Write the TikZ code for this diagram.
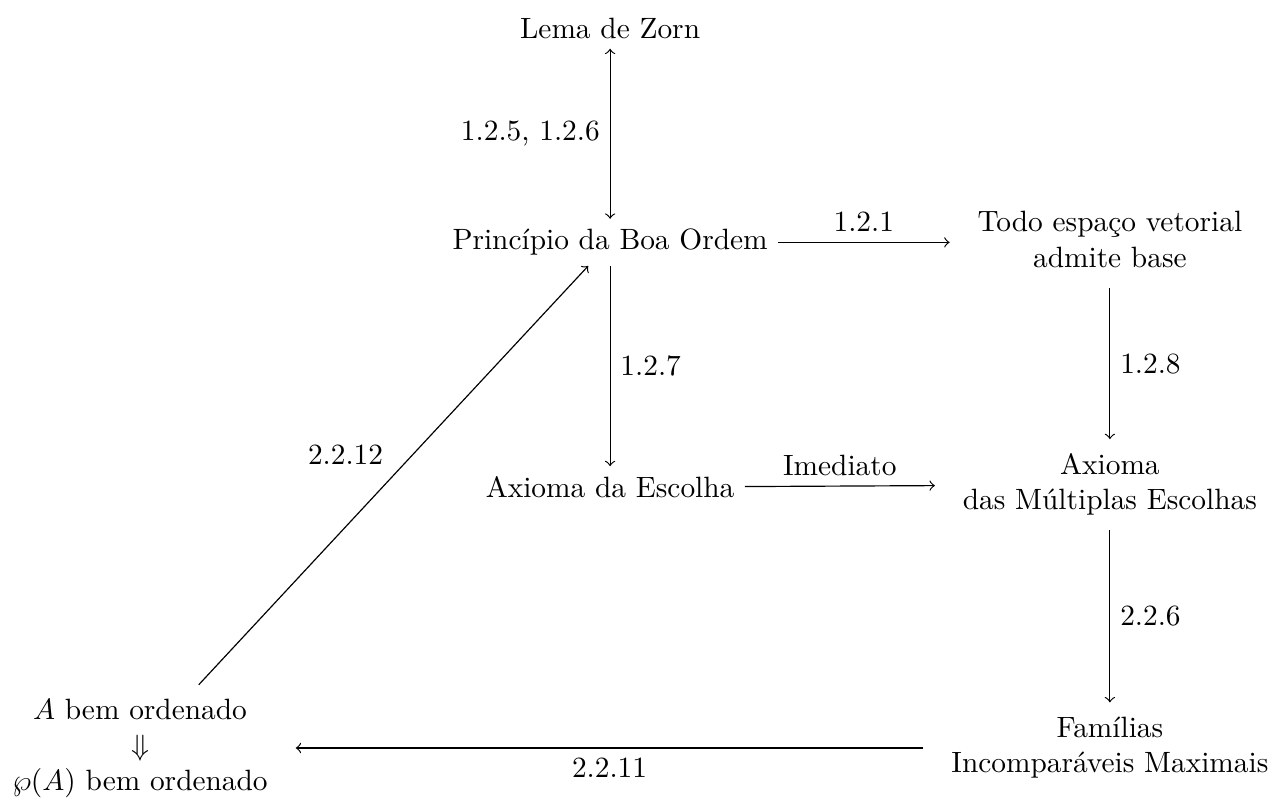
\documentclass[tikz,border=0pt]{standalone}
\usepackage{amssymb}
\newcommand{\linhas}[1]{\begin{tabular}{c}#1\end{tabular}}
\begin{document}
\begin{tikzpicture}
        \useasboundingbox (0,0) rectangle (15.22,-9.56);
        \scoped{
                \node (zorn) at (7.30,-0.335) {Lema de Zorn};
                \node (pbo) at (7.30,-2.90) {Princípio da Boa Ordem};
                \node (base) at (13.28,-2.90) {\linhas{Todo espaço vetorial\\admite base}};
                \node (ae) at (7.30,-5.83) {Axioma da Escolha};
                \node (ame) at (13.28,-5.80) {\linhas{Axioma\\das Múltiplas Escolhas}};
                \node (fim) at (13.28,-8.95) {\linhas{Famílias\\Incomparáveis Maximais}};
                \node (bo) at (1.675,-8.95) {\linhas{$A$ bem ordenado\\$\Downarrow$\\$\wp(A)$ bem ordenado}};
            };
            \draw[<->] (zorn) -- (pbo) node[midway, left] {1.2.5, 1.2.6};
            \draw[->] (pbo) -- (base) node[midway, above] {1.2.1};
            \draw[->] (pbo) -- (ae) node[midway, right] {1.2.7};
            \draw[->] (base) -- (ame) node[midway, right] {1.2.8};
            \draw[->] (ae) -- (ame) node[midway, above] {Imediato};
            \draw[->] (ame) -- (fim) node[midway, right] {2.2.6};
            \draw[->] (fim) -- (bo) node[midway, below] {2.2.11};
            \draw[->] (bo) -- (pbo) node[midway, above left] {2.2.12};
    \end{tikzpicture}
\end{document}
